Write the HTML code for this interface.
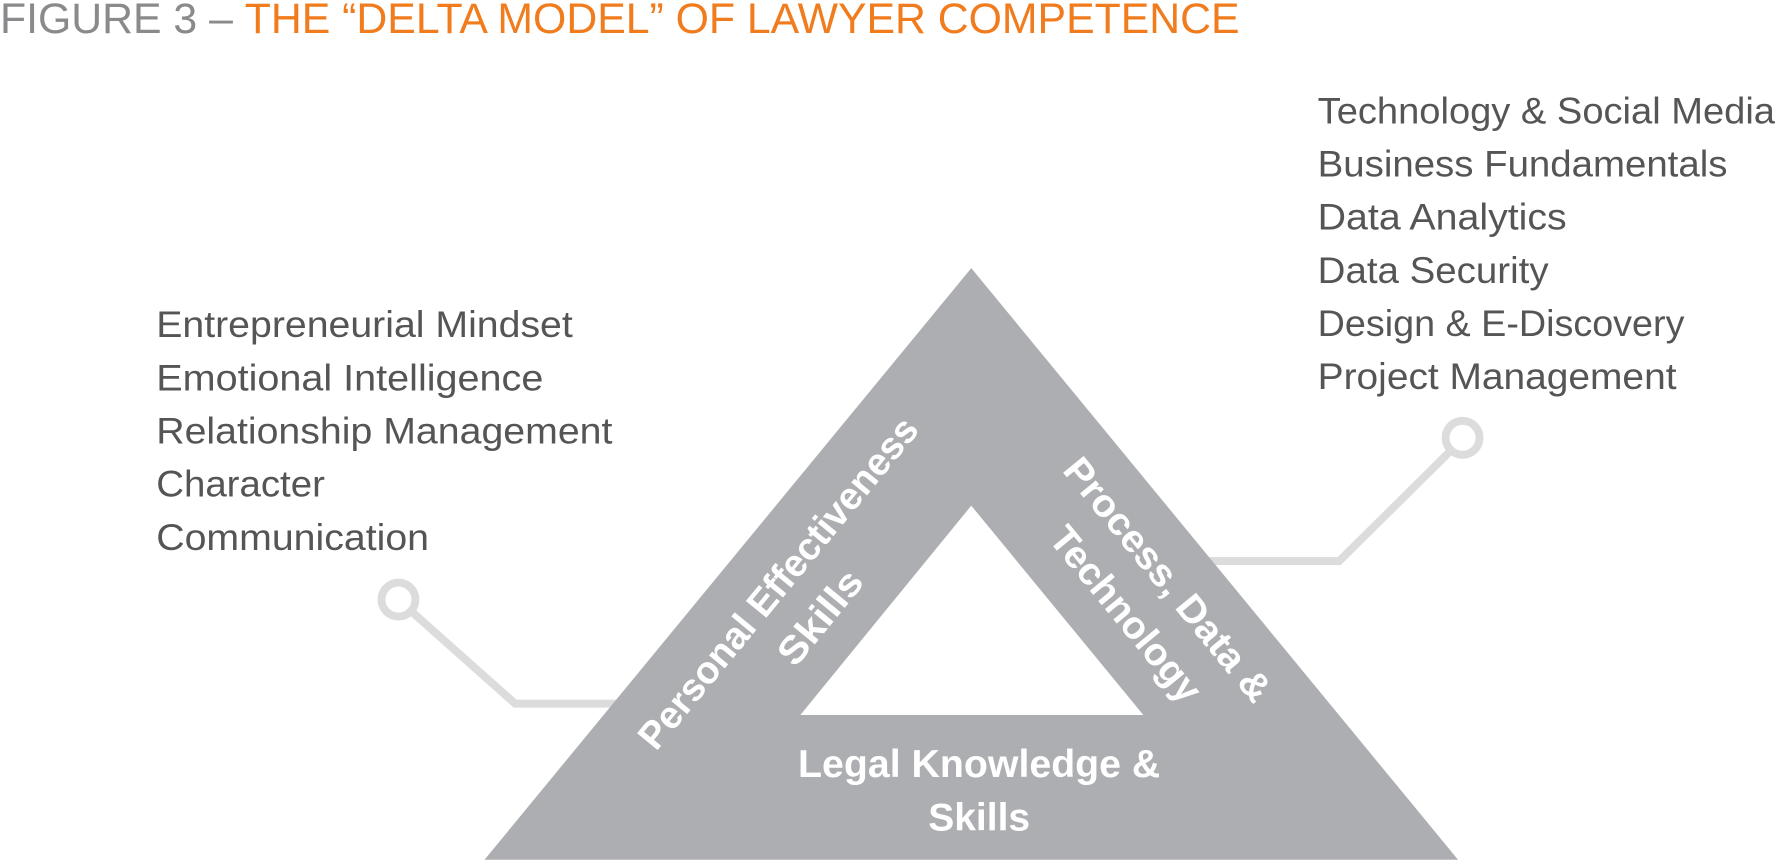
<!DOCTYPE html>
<html><head><meta charset="utf-8"><style>
html,body{margin:0;padding:0;background:#fff;width:1775px;height:862px;overflow:hidden}
svg{display:block}
text{font-family:"Liberation Sans",sans-serif}
.l{fill:#555;font-size:33px}
.w{fill:#fff;font-size:34px;font-weight:bold}
</style></head><body>
<svg width="1775" height="862" viewBox="0 0 1568 762" preserveAspectRatio="none">
<text x="0" y="29" font-size="38" textLength="1095" lengthAdjust="spacingAndGlyphs"><tspan fill="#8a8a8c">FIGURE 3 – </tspan><tspan fill="#f07c1e">THE “DELTA MODEL” OF LAWYER COMPETENCE</tspan></text>
<g stroke="#dcdcdc" stroke-width="7" fill="none">
<circle cx="352" cy="530" r="15"/>
<polyline points="364,541 455,622 548,622"/>
<circle cx="1292" cy="387" r="15"/>
<polyline points="1282,398 1183,496 1060,496"/>
</g>
<polygon points="858,237 1288,760 428,760" fill="#adaeb1"/>
<polygon points="858,447 1010,632 707,632" fill="#fff"/>
<g class="l">
<text x="138" y="298" textLength="368" lengthAdjust="spacingAndGlyphs">Entrepreneurial Mindset</text>
<text x="138" y="345" textLength="342" lengthAdjust="spacingAndGlyphs">Emotional Intelligence</text>
<text x="138" y="392" textLength="403" lengthAdjust="spacingAndGlyphs">Relationship Management</text>
<text x="138" y="439" textLength="149" lengthAdjust="spacingAndGlyphs">Character</text>
<text x="138" y="486" textLength="241" lengthAdjust="spacingAndGlyphs">Communication</text>
<text x="1164" y="109" textLength="404" lengthAdjust="spacingAndGlyphs">Technology &amp; Social Media</text>
<text x="1164" y="156" textLength="362" lengthAdjust="spacingAndGlyphs">Business Fundamentals</text>
<text x="1164" y="203" textLength="220" lengthAdjust="spacingAndGlyphs">Data Analytics</text>
<text x="1164" y="250" textLength="204" lengthAdjust="spacingAndGlyphs">Data Security</text>
<text x="1164" y="297" textLength="324" lengthAdjust="spacingAndGlyphs">Design &amp; E-Discovery</text>
<text x="1164" y="344" textLength="317" lengthAdjust="spacingAndGlyphs">Project Management</text>
</g>
<g transform="translate(687,515) rotate(-50.6)" class="w" text-anchor="middle">
<text x="0" y="12" textLength="368" lengthAdjust="spacingAndGlyphs">Personal Effectiveness</text>
<text x="0" y="60" textLength="98" lengthAdjust="spacingAndGlyphs">Skills</text>
</g>
<g transform="translate(1032,512) rotate(50.6)" class="w" text-anchor="middle">
<text x="0" y="12" textLength="268" lengthAdjust="spacingAndGlyphs">Process, Data &amp;</text>
<text x="0" y="60" textLength="190" lengthAdjust="spacingAndGlyphs">Technology</text>
</g>
<g class="w" text-anchor="middle" font-size="36">
<text x="865" y="687" textLength="320" lengthAdjust="spacingAndGlyphs">Legal Knowledge &amp;</text>
<text x="865" y="734" textLength="90" lengthAdjust="spacingAndGlyphs">Skills</text>
</g>
</svg>
</body></html>
